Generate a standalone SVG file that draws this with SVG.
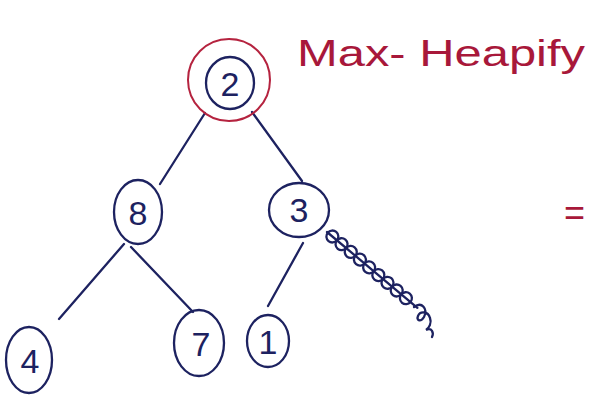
<svg xmlns="http://www.w3.org/2000/svg" width="591" height="398" viewBox="0 0 591 398">
<style>
.ink{fill:none;stroke:#1d2260;stroke-width:2.3;stroke-linecap:round}
.red{fill:none;stroke:#b5233f;stroke-width:2}
.num{font-family:"Liberation Sans",Arial,sans-serif;font-size:34px;fill:#1d2260;text-anchor:middle}
.title{font-family:"Liberation Sans",Arial,sans-serif;font-size:36px;fill:#a8183a}
</style>
<rect width="591" height="398" fill="#ffffff"/>
<text class="title" x="297" y="66" textLength="288" lengthAdjust="spacingAndGlyphs">Max- Heapify</text>
<text class="title" x="564" y="225" font-size="26">=</text>
<g id="connectors">
<line class="ink" x1="205" y1="113" x2="160" y2="184"/>
<line class="ink" x1="252" y1="112" x2="302" y2="181"/>
<line class="ink" x1="124" y1="244" x2="59" y2="319"/>
<line class="ink" x1="131" y1="247" x2="193" y2="312"/>
<line class="ink" x1="303" y1="243" x2="268" y2="306"/>
<g id="coil" transform="translate(327,232) rotate(40)">
<line class="ink" x1="0" y1="0" x2="118" y2="0" stroke-width="2.8"/>
<ellipse class="ink" cx="7" cy="0" rx="6" ry="6"/>
<ellipse class="ink" cx="19" cy="0" rx="6" ry="6"/>
<ellipse class="ink" cx="31" cy="0" rx="6" ry="6"/>
<ellipse class="ink" cx="43" cy="0" rx="6" ry="6"/>
<ellipse class="ink" cx="55" cy="0" rx="6" ry="6"/>
<ellipse class="ink" cx="67" cy="0" rx="6" ry="6"/>
<ellipse class="ink" cx="79" cy="0" rx="6" ry="6"/>
<ellipse class="ink" cx="91" cy="0" rx="6" ry="6"/>
<ellipse class="ink" cx="103" cy="0" rx="6" ry="6"/>
</g>
<path class="ink" d="M414 307 c8 -6 14 2 10 10 c-3 5 -8 4 -6 -1 c2 -5 10 -5 12 2 c2 5 -1 10 -4 12 c6 -3 8 3 6 7"/>
</g>
<g id="node-2">
<circle class="red" cx="229" cy="80" r="41"/>
<ellipse class="ink" cx="230" cy="83" rx="24" ry="26"/>
<text class="num" x="230" y="96">2</text>
</g>
<g id="node-8">
<ellipse class="ink" cx="138" cy="212" rx="24" ry="32"/>
<text class="num" x="138" y="225">8</text>
</g>
<g id="node-3">
<ellipse class="ink" cx="299" cy="210" rx="30" ry="27"/>
<text class="num" x="299" y="222">3</text>
</g>
<g id="node-4">
<ellipse class="ink" cx="29" cy="360" rx="23" ry="33"/>
<text class="num" x="30" y="373">4</text>
</g>
<g id="node-7">
<ellipse class="ink" cx="199" cy="343" rx="25" ry="33"/>
<text class="num" x="201" y="356">7</text>
</g>
<g id="node-1">
<ellipse class="ink" cx="268" cy="341" rx="21" ry="26"/>
<text class="num" x="268" y="354">1</text>
</g>
</svg>
